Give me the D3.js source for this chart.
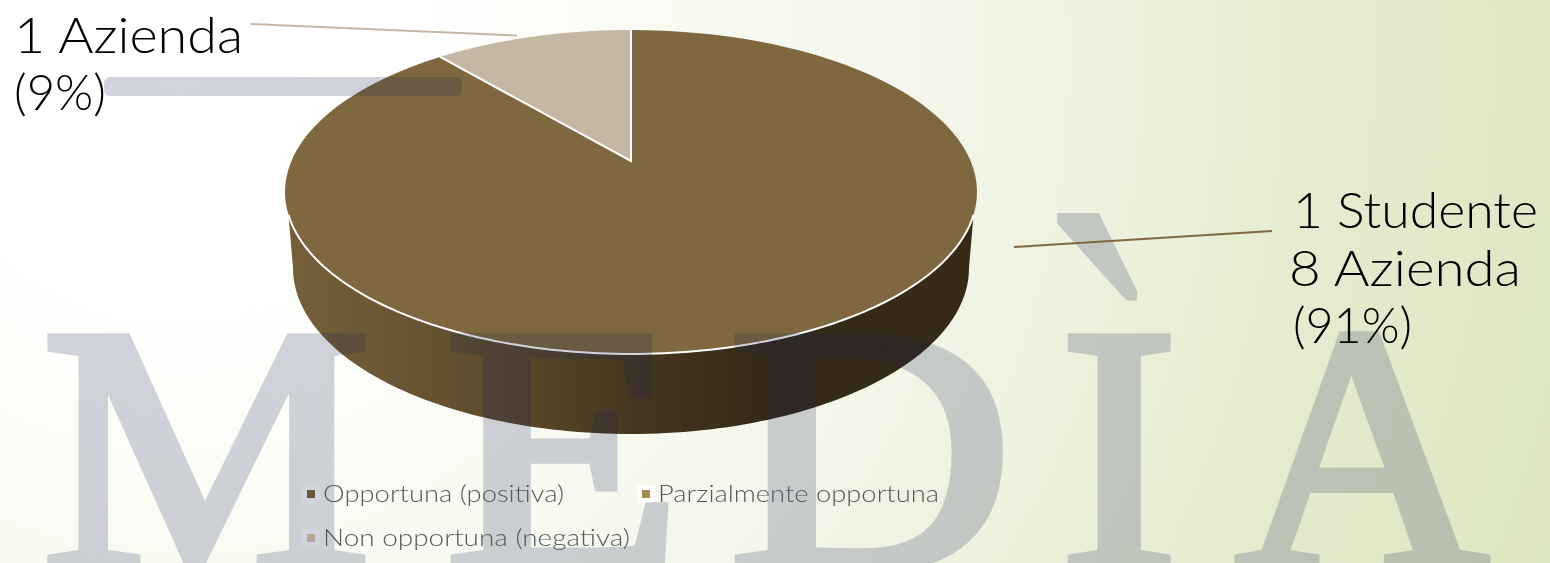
<!DOCTYPE html>
<html><head><meta charset="utf-8">
<script src="https://cdn.jsdelivr.net/npm/d3@7/dist/d3.min.js"></script>
<style>html,body{margin:0;padding:0;overflow:hidden;background:#fff}svg{display:block}</style>
</head><body><svg id="c" width="1550" height="563"></svg>
<script>
const categories = ["Opportuna (positiva)", "Parzialmente opportuna", "Non opportuna (negativa)"];
const seriesValues = [0, 90.7, 9.3];
const legendColors = ["#6b5636", "#a68a50", "#b3a89a"];
const sliceColors = ["#6b5636", "#7f6840", "#c4b7a4"];
const dataLabels = [["1 Studente", "8 Azienda", "(91%)"], ["1 Azienda", "(9%)"]];
const watermark = ["M", "E", "D", "I", "A"];

const svg = d3.select("#c");
const defs = svg.append("defs");

const bg = defs.append("radialGradient").attr("id","bg").attr("gradientUnits","userSpaceOnUse")
  .attr("cx",180).attr("cy",60).attr("r",1500);
[[0,"#ffffff"],[0.2,"#fefefc"],[0.33,"#f9fbf3"],[0.5,"#f3f6e9"],[0.62,"#edf1de"],[0.75,"#e6ecd0"],[0.9,"#e0e8c6"],[1,"#dbe5bd"]].forEach(s=>bg.append("stop").attr("offset",s[0]).attr("stop-color",s[1]));
const side = defs.append("linearGradient").attr("id","side").attr("gradientUnits","userSpaceOnUse")
  .attr("x1",288).attr("y1",0).attr("x2",970).attr("y2",0);
[[0,"#76603a"],[0.25,"#625030"],[0.5,"#463720"],[0.7,"#352a18"],[1,"#352a18"]].forEach(s=>side.append("stop").attr("offset",s[0]).attr("stop-color",s[1]));

svg.append("rect").attr("width",1550).attr("height",563).attr("fill","url(#bg)");

// legend halos
const legendPos = d3.scaleOrdinal().domain(categories).range([[302,485],[637,485],[302,529]]);
const legendTextW = [241, 281, 307];
svg.selectAll("rect.halo").data(categories).join("rect").attr("class","halo")
  .attr("x",d=>legendPos(d)[0]).attr("y",d=>legendPos(d)[1]).attr("width",18).attr("height",18).attr("rx",3).attr("fill","#fff");

// pie
const topE = {cx:631, cy:192, rx:346, ry:162, apexY:161};
const lowE = {cx:631, cy:268, rx:338, ry:166};
const pts = (e,a0,a1) => d3.range(0,121).map(i=>{const a=a0+(a1-a0)*i/120;return [e.cx+e.rx*Math.sin(a), e.cy-e.ry*Math.cos(a)];});
const line = d3.line();
const pie = d3.pie().sort(null).value(d=>d)(seriesValues);

// side wall
const rimA0 = Math.PI*0.5+0.142, rimA1 = Math.PI*1.5-0.142;
svg.append("path").attr("d", line(pts(lowE, Math.PI*1.5, Math.PI*0.5).concat(pts(topE,rimA0,rimA1)))+"Z").attr("fill","url(#side)");

svg.selectAll("path.slice").data(pie).join("path").attr("class","slice")
  .attr("d",d=> d.endAngle-d.startAngle<1e-6 ? null : line([[topE.cx,topE.apexY]].concat(pts(topE,d.startAngle,d.endAngle)))+"Z")
  .attr("fill",(d,i)=>sliceColors[i]);
// white edges
const smallSlice = pie[2];
svg.append("path").attr("d",line(pts(topE,rimA0,rimA1))).attr("fill","none").attr("stroke","#fff").attr("stroke-width",2);
svg.append("path").attr("d",line([pts(topE,smallSlice.startAngle,smallSlice.startAngle)[0],[topE.cx,topE.apexY],pts(topE,0,0)[0]])).attr("fill","none").attr("stroke","#fff").attr("stroke-width",2);

// watermark and bar overlay
const ink = svg.append("g").attr("opacity",0.2);
const wmX = d3.scaleOrdinal().domain(watermark).range([42,445,729,1060,1236]);
const wmW = [329,237,284,118,252];
ink.selectAll("text").data(watermark).join("text")
  .attr("x",d=>wmX(d)).attr("y",568)
  .attr("font-family","Liberation Serif").attr("font-size",351)
  .attr("textLength",(d,i)=>wmW[i]).attr("lengthAdjust","spacingAndGlyphs")
  .attr("fill","#1b2355").attr("stroke","#1b2355").attr("stroke-width",10).text(d=>d);
ink.append("text").attr("transform","translate(1034,-69) scale(1,1.47)").attr("y",470).attr("font-family","Liberation Serif").attr("font-size",400)
  .attr("fill","#1b2355").text("`");
ink.append("rect").attr("x",104).attr("y",77).attr("width",358).attr("height",19).attr("rx",6).attr("fill","#1b2355");

// leaders
svg.append("line").attr("x1",251).attr("y1",24).attr("x2",517).attr("y2",35.5).attr("stroke",sliceColors[2]).attr("stroke-width",2);
svg.append("line").attr("x1",1014).attr("y1",247).attr("x2",1272).attr("y2",231).attr("stroke",sliceColors[1]).attr("stroke-width",2);

// labels
const font = "Lato, 'Open Sans', sans-serif";
const lab = (t,x,y,w)=>svg.append("text").attr("x",x).attr("y",y).attr("font-family",font).attr("font-weight",300)
  .attr("font-size",49).attr("fill","#000").attr("textLength",w).attr("lengthAdjust","spacingAndGlyphs").text(t);
lab(dataLabels[1][0],14,53,229); lab(dataLabels[1][1],14,110,92);
lab(dataLabels[0][0],1293,228,245); lab(dataLabels[0][1],1289,286,232); lab(dataLabels[0][2],1293,343,119);

// legend
svg.selectAll("rect.key").data(categories).join("rect").attr("class","key")
  .attr("x",d=>legendPos(d)[0]+5).attr("y",d=>legendPos(d)[1]+5).attr("width",8).attr("height",8).attr("fill",(d,i)=>legendColors[i]);
svg.selectAll("text.leg").data(categories).join("text").attr("class","leg")
  .attr("x",d=>legendPos(d)[0]+21).attr("y",d=>legendPos(d)[1]+17)
  .attr("font-family",font).attr("font-weight",300).attr("font-size",23).attr("fill","#55595f")
  .attr("textLength",(d,i)=>legendTextW[i]).attr("lengthAdjust","spacingAndGlyphs").text(d=>d);
</script></body></html>
